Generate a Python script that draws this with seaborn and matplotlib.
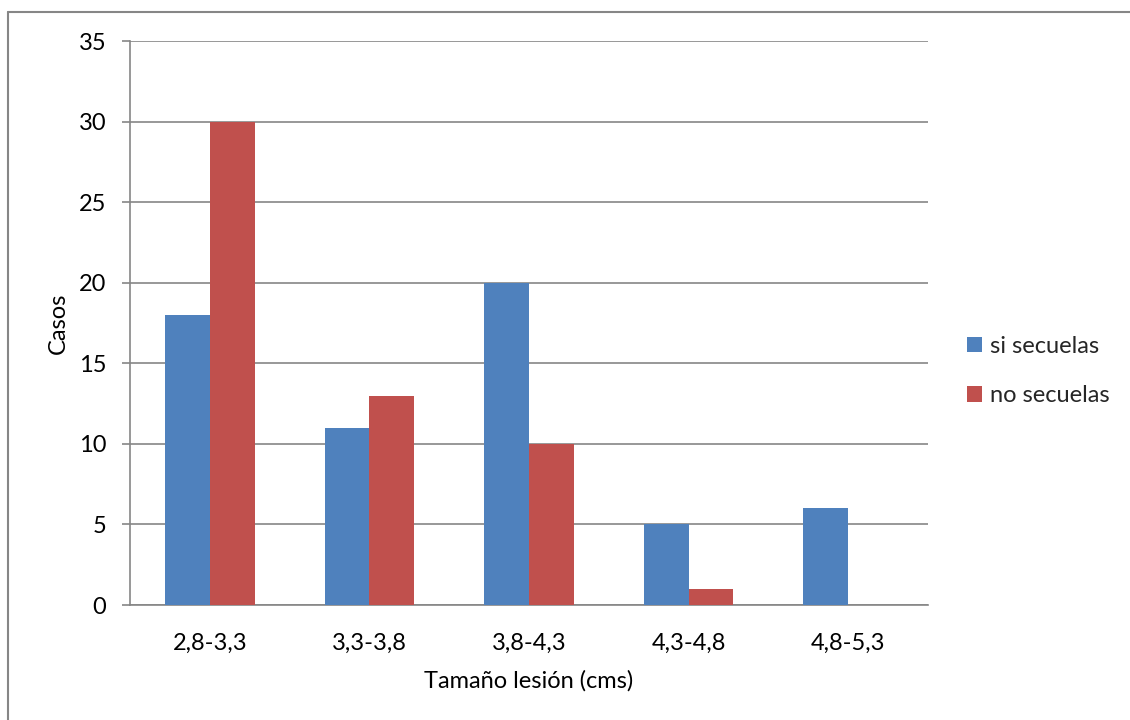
import matplotlib
matplotlib.use("Agg")
import matplotlib.pyplot as plt
from matplotlib.lines import Line2D
from matplotlib.patches import Patch
import seaborn as sns
import pandas as pd

categories = ["2,8-3,3", "3,3-3,8", "3,8-4,3", "4,3-4,8", "4,8-5,3"]
si_secuelas = [18, 11, 20, 5, 6]
no_secuelas = [30, 13, 10, 1, 0]
series_names = ["si secuelas", "no secuelas"]
y_ticks = [0, 5, 10, 15, 20, 25, 30, 35]

df = pd.DataFrame({
    "Tamaño": categories * 2,
    "Casos": si_secuelas + no_secuelas,
    "Serie": [series_names[0]] * len(categories) + [series_names[1]] * len(categories),
})

sns.set_theme(style="white")
plt.rcParams["font.family"] = ["Lato", "DejaVu Sans"]

W, H = 1130, 720
FS = 17
fig = plt.figure(figsize=(W / 100, H / 100), dpi=100)
ax = fig.add_axes([130 / W, 1 - 605 / H, (928 - 130) / W, (605 - 41) / H])

palette = {"si secuelas": "#4F81BD", "no secuelas": "#C0504D"}
grey = "#868686"

sns.barplot(data=df, x="Tamaño", y="Casos", hue="Serie", palette=palette,
            width=0.5625, gap=0, saturation=1, legend=False, ax=ax,
            linewidth=0, edgecolor="none", zorder=3)

ax.set_xlim(-0.5, len(categories) - 0.5)
ax.set_ylim(0, 35)
ax.set_yticks(y_ticks)
ax.yaxis.grid(True, color=grey, linewidth=1.2, zorder=0)
ax.set_axisbelow(True)

for side in ["top", "right"]:
    ax.spines[side].set_visible(False)
for side in ["left", "bottom"]:
    ax.spines[side].set_color(grey)
    ax.spines[side].set_linewidth(1.2)

# category labels centred, tick marks on category boundaries
ax.set_xticks(range(len(categories)))
ax.set_xticklabels(categories)
ax.set_xticks([i - 0.5 for i in range(len(categories) + 1)], minor=True)
ax.tick_params(axis="x", which="major", length=0, pad=20, labelsize=FS, colors="black")
ax.tick_params(axis="x", which="minor", length=6, width=1.2, color=grey, direction="out")
ax.tick_params(axis="y", length=6, width=1.2, color=grey, direction="out",
               pad=11, labelsize=FS, labelcolor="black", left=True)

ax.set_xlabel("Tamaño lesión (cms)", fontsize=FS, color="black", va="center", ha="center")
ax.xaxis.set_label_coords(0.5, (605 - 681) / (605 - 41))
ax.set_ylabel("Casos", fontsize=FS, color="black", va="center", ha="center")
ax.yaxis.set_label_coords((58 - 130) / (928 - 130), 0.5)

handles = [Patch(facecolor=palette[s], edgecolor="none") for s in series_names]
fig.legend(handles, series_names, loc="center left", bbox_to_anchor=(967 / W, 1 - 371 / H),
           frameon=False, fontsize=FS, handlelength=0.62, handleheight=0.62,
           handletextpad=0.35, labelspacing=1.2, borderpad=0, borderaxespad=0)

# chart frame (top and left edges)
fig.add_artist(Line2D([8 / W, 1.0], [1 - 12 / H, 1 - 12 / H], transform=fig.transFigure,
                      color=grey, linewidth=1.5))
fig.add_artist(Line2D([8 / W, 8 / W], [1 - 12 / H, 0.0], transform=fig.transFigure,
                      color=grey, linewidth=1.5))

fig.savefig("out.png", dpi=100, facecolor="white")
